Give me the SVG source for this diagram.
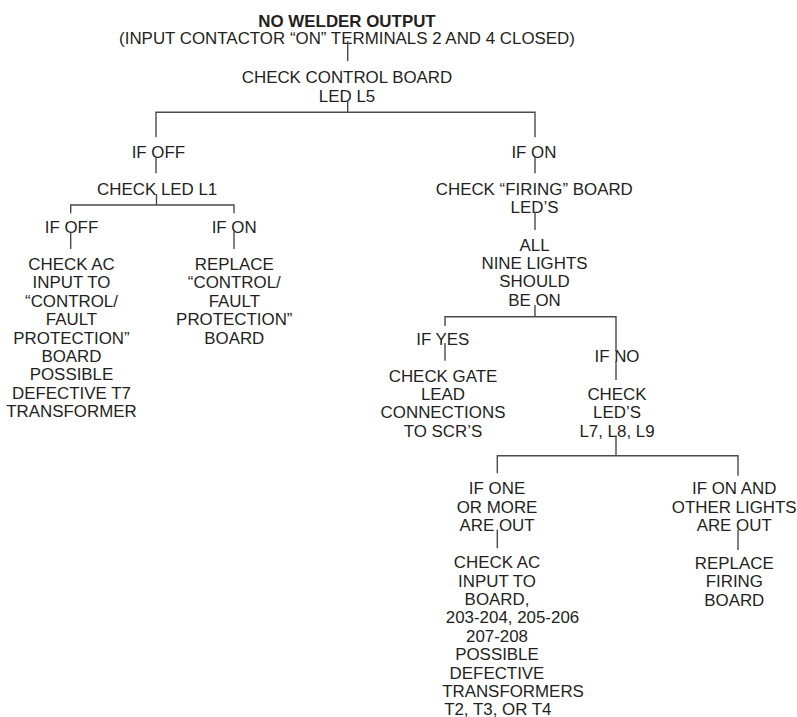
<svg xmlns="http://www.w3.org/2000/svg" width="797" height="717" viewBox="0 0 797 717">
<style>
text{font-family:"Liberation Sans",Arial,Helvetica,sans-serif;font-size:16.9px;fill:#231f20;text-anchor:middle}
.b{font-weight:bold}
.c{fill:none;stroke:#4a4a4a;stroke-width:1.4}
</style>
<rect width="797" height="717" fill="#fff"/>
<g id="n-title">
<text class="b" x="347" y="26.5">NO WELDER OUTPUT</text>
<text x="347" y="44.3">(INPUT CONTACTOR “ON” TERMINALS 2 AND 4 CLOSED)</text>
</g>
<g id="n-check-l5">
<text x="347" y="83.3">CHECK CONTROL BOARD</text>
<text x="347" y="101.6">LED L5</text>
</g>
<g id="n-if-off-1"><text x="158.4" y="158.3">IF OFF</text></g>
<g id="n-check-l1"><text x="157.2" y="195">CHECK LED L1</text></g>
<g id="n-if-off-2"><text x="71.5" y="233.3">IF OFF</text></g>
<g id="n-check-ac-1">
<text x="71.5" y="270">CHECK AC</text>
<text x="71.5" y="288.4">INPUT TO</text>
<text x="71.5" y="306.8">“CONTROL/</text>
<text x="71.5" y="325.2">FAULT</text>
<text x="71.5" y="343.6">PROTECTION”</text>
<text x="71.5" y="362">BOARD</text>
<text x="71.5" y="380.4">POSSIBLE</text>
<text x="71.5" y="398.8">DEFECTIVE T7</text>
<text x="71.5" y="417.2">TRANSFORMER</text>
</g>
<g id="n-if-on-2"><text x="234.2" y="233.3">IF ON</text></g>
<g id="n-replace-control">
<text x="234.3" y="270">REPLACE</text>
<text x="234.3" y="288.4">“CONTROL/</text>
<text x="234.3" y="306.8">FAULT</text>
<text x="234.3" y="325.2">PROTECTION”</text>
<text x="234.3" y="343.6">BOARD</text>
</g>
<g id="n-if-on-1"><text x="533.9" y="158.3">IF ON</text></g>
<g id="n-check-firing">
<text x="534.3" y="195">CHECK “FIRING” BOARD</text>
<text x="534.5" y="213.3">LED’S</text>
</g>
<g id="n-all-nine">
<text x="534.5" y="250.5">ALL</text>
<text x="534.5" y="268.9">NINE LIGHTS</text>
<text x="534.5" y="287.3">SHOULD</text>
<text x="534.5" y="305.7">BE ON</text>
</g>
<g id="n-if-yes"><text x="442.8" y="345">IF YES</text></g>
<g id="n-check-gate">
<text x="443" y="381.7">CHECK GATE</text>
<text x="443" y="400">LEAD</text>
<text x="443" y="418.3">CONNECTIONS</text>
<text x="443" y="436.7">TO SCR’S</text>
</g>
<g id="n-if-no"><text x="617" y="362.3">IF NO</text></g>
<g id="n-check-l7">
<text x="617" y="400">CHECK</text>
<text x="617" y="418.3">LED’S</text>
<text x="617" y="436.7">L7, L8, L9</text>
</g>
<g id="n-if-one">
<text x="497" y="494.3">IF ONE</text>
<text x="497" y="512.7">OR MORE</text>
<text x="497" y="531.1">ARE OUT</text>
</g>
<g id="n-check-ac-2">
<text x="497" y="568.3">CHECK AC</text>
<text x="497" y="586.7">INPUT TO</text>
<text x="497" y="605">BOARD,</text>
<text x="512.5" y="623.4">203-204, 205-206</text>
<text x="497" y="641.8">207-208</text>
<text x="497" y="660.2">POSSIBLE</text>
<text x="497" y="678.6">DEFECTIVE</text>
<text x="513" y="697">TRANSFORMERS</text>
<text x="497.8" y="715.2">T2, T3, OR T4</text>
</g>
<g id="n-if-on-and">
<text x="734.2" y="494.3">IF ON AND</text>
<text x="734.2" y="512.7">OTHER LIGHTS</text>
<text x="734.2" y="531.1">ARE OUT</text>
</g>
<g id="n-replace-firing">
<text x="734.3" y="569">REPLACE</text>
<text x="734.3" y="587.4">FIRING</text>
<text x="734.3" y="605.8">BOARD</text>
</g>
<g id="connectors" class="c">
<path class="c" d="M347.7 41V61"/>
<path class="c" d="M347.7 100V112.3M156 137.3V112.3H535V137.3"/>
<path class="c" d="M156 156.5V173.3M156.5 194V205M70.7 213.3V205H234V213.3"/>
<path class="c" d="M70.7 231.7V249M234 231.7V249"/>
<path class="c" d="M535 156.5V173.3M535 212V230"/>
<path class="c" d="M535 305V316.7M445 326V316.7H616V351.7"/>
<path class="c" d="M445 343V360.7M616 361V380"/>
<path class="c" d="M616 435.5V455.7M497.3 473.3V455.7H738V475.7"/>
<path class="c" d="M497.3 529.5V548.3M738 529.5V550"/>
</g>
</svg>
